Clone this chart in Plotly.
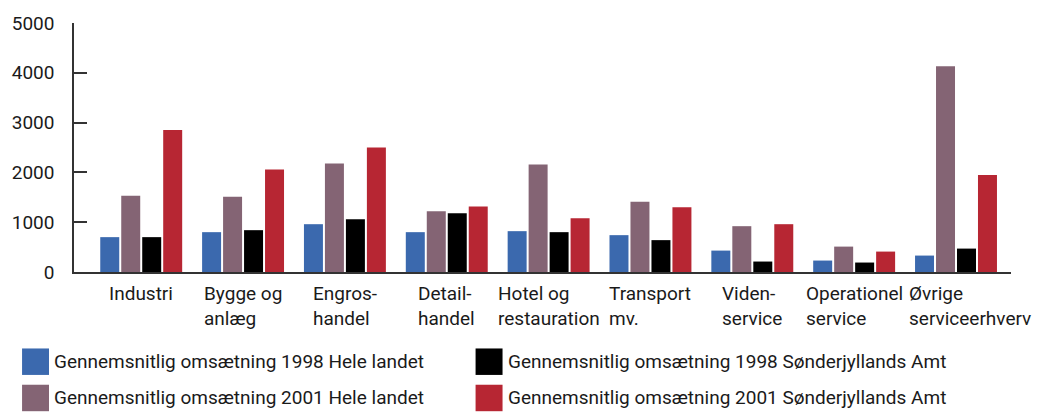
import plotly.graph_objects as go

categories = ["Industri", "Bygge og anlæg", "Engros-handel", "Detail-handel",
              "Hotel og restauration", "Transport mv.", "Viden-service",
              "Operationel service", "Øvrige serviceerhverv"]
category_labels = ["Industri", "Bygge og<br>anlæg", "Engros-<br>handel", "Detail-<br>handel",
                   "Hotel og<br>restauration", "Transport<br>mv.", "Viden-<br>service",
                   "Operationel<br>service", "Øvrige<br>serviceerhverv"]

series_names = ["Gennemsnitlig omsætning 1998 Hele landet",
                "Gennemsnitlig omsætning 2001 Hele landet",
                "Gennemsnitlig omsætning 1998 Sønderjyllands Amt",
                "Gennemsnitlig omsætning 2001 Sønderjyllands Amt"]
hele_1998 = [700, 800, 960, 800, 820, 740, 430, 230, 330]
hele_2001 = [1530, 1510, 2180, 1220, 2160, 1410, 920, 510, 4130]
sj_1998 = [700, 840, 1060, 1180, 800, 640, 210, 190, 470]
sj_2001 = [2850, 2060, 2500, 1315, 1080, 1300, 960, 410, 1950]
series_values = [hele_1998, hele_2001, sj_1998, sj_2001]
colors = ["#3B69AE", "#846474", "#000000", "#B72633"]

y_ticks = [0, 1000, 2000, 3000, 4000, 5000]

FONT = "Roboto, Liberation Sans, sans-serif"
W, H = 1037, 414
ML, MR, MT, MB = 73, 26, 18, 142
pw, ph = W - ML - MR, H - MT - MB

def px_x(x):
    return (x - ML) / pw

def px_y(y):
    return (H - MB - y) / ph

fig = go.Figure()
for name, vals, col in zip(series_names, series_values, colors):
    fig.add_trace(go.Bar(x=categories, y=vals, name=name, marker=dict(color=col, line=dict(width=0)),
                         showlegend=False))

annotations = []
for cat, lab in zip(categories, category_labels):
    shift = 14 if cat.startswith("Øvrige") else 0
    annotations.append(dict(x=cat, xref="x", y=0, yref="paper", yanchor="top", xanchor="center",
                            yshift=-8, xshift=shift, text=lab, align="left", showarrow=False,
                            font=dict(family=FONT, size=19, color="#1a1a1a")))

# manual legend (2 columns)
legend_pos = [(21, 350), (21, 387), (475, 350), (475, 387)]
shapes = []
for (lx, ly), name, col in zip(legend_pos, series_names, colors):
    shapes.append(dict(type="rect", xref="paper", yref="paper",
                       x0=px_x(lx), x1=px_x(lx + 27), y0=px_y(ly), y1=px_y(ly + 27),
                       fillcolor=col, line=dict(width=0)))
    annotations.append(dict(x=px_x(lx + 30), xref="paper", y=px_y(ly + 13.5), yref="paper",
                            xanchor="left", yanchor="middle", text=name, showarrow=False,
                            font=dict(family=FONT, size=19, color="#1a1a1a")))

fig.update_layout(
    width=W, height=H,
    margin=dict(l=ML, r=MR, t=MT, b=MB, pad=0),
    paper_bgcolor="white", plot_bgcolor="white",
    barmode="group", bargap=0.176, bargroupgap=0.095,
    showlegend=False,
    xaxis=dict(range=[-0.66, 8.54], showticklabels=False, ticks="", showgrid=False,
               showline=True, linecolor="#333333", linewidth=2, zeroline=False),
    yaxis=dict(range=[0, 5000], tickvals=y_ticks, ticks="inside", ticklen=13, tickwidth=1.5,
               tickcolor="#333333", showgrid=False, showline=True, linecolor="#333333",
               linewidth=1.5, zeroline=False, ticklabelstandoff=14,
               tickfont=dict(family=FONT, size=19, color="#1a1a1a")),
    annotations=annotations, shapes=shapes,
)

fig.write_html("out.html", config={"displayModeBar": False},
               post_script="document.body.style.margin='0';document.body.style.overflow='hidden';")
